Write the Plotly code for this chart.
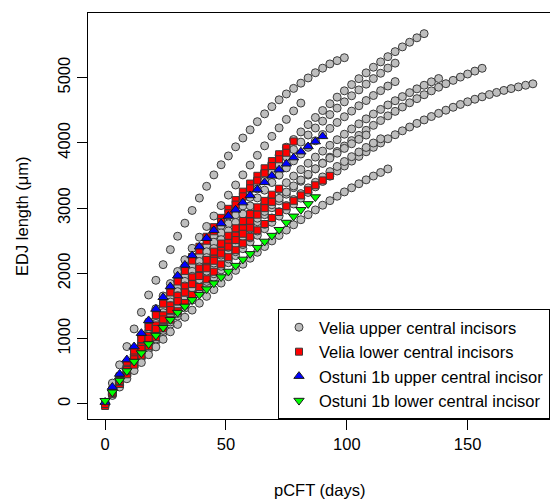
import plotly.graph_objects as go

# pCFT sampling days (every 3 days)
days = [0, 3, 6, 9, 12, 15, 18, 21, 24, 27, 30, 33, 36, 39, 42, 45, 48, 51, 54, 57,
        60, 63, 66, 69, 72, 75, 78, 81, 84, 87, 90, 93, 96, 99, 102, 105, 108, 111, 114, 117,
        120, 123, 126, 129, 132, 135, 138, 141, 144, 147, 150, 153, 156, 159, 162, 165, 168, 171, 174, 177]

# Velia upper central incisors (one list per tooth)
velia_upper = [
    [0, 320, 600, 880, 1150, 1405, 1670, 1895, 2135, 2365, 2570, 2770, 2965, 3155, 3335, 3510, 3665,
     3800, 3940, 4075, 4200, 4325, 4445, 4555, 4660, 4750, 4835, 4915, 4995, 5075, 5145, 5210, 5260, 5305],
    [0, 215, 430, 640, 850, 1055, 1260, 1460, 1655, 1845, 2030, 2210, 2385, 2555, 2720, 2880, 3040,
     3200, 3355, 3510, 3660, 3810, 3955, 4100, 4230, 4360, 4490, 4610],
    [0, 193, 383, 571, 755, 936, 1114, 1290, 1462, 1631, 1798, 1961, 2121, 2279, 2433, 2584, 2733,
     2878, 3021, 3160, 3296, 3430, 3560, 3688, 3812, 3934, 4052, 4168, 4280, 4390, 4496, 4600, 4701,
     4798, 4893, 4984, 5073, 5159, 5241, 5321, 5398, 5471, 5542, 5610, 5674],
    [0, 185, 366, 546, 722, 895, 1066, 1234, 1399, 1562, 1721, 1878, 2032, 2184, 2332, 2478, 2621,
     2761, 2899, 3034, 3166, 3295, 3421, 3545, 3666, 3784, 3899, 4012, 4121, 4228, 4333, 4434, 4533,
     4629, 4722, 4812, 4900, 4985, 5067, 5146, 5222],
    [0, 179, 354, 527, 697, 865, 1029, 1191, 1350, 1506, 1659, 1809, 1957, 2101, 2243, 2382, 2518,
     2652, 2782, 2910, 3035, 3157, 3276, 3393, 3506, 3617, 3725, 3830, 3932, 4032, 4128, 4222, 4313,
     4401, 4487, 4569, 4649, 4726, 4800, 4871, 4939],
    [0, 167, 331, 492, 651, 808, 961, 1113, 1261, 1407, 1550, 1691, 1829, 1965, 2098, 2228, 2356,
     2481, 2604, 2724, 2842, 2956, 3069, 3178, 3285, 3390, 3492, 3591, 3688, 3782, 3874, 3963, 4049,
     4133, 4214, 4292, 4368, 4442, 4513, 4581, 4646, 4709, 4770, 4828, 4883, 4936, 4986],
    [0, 155, 308, 458, 606, 753, 896, 1038, 1178, 1315, 1450, 1583, 1714, 1842, 1969, 2093, 2215,
     2335, 2452, 2568, 2681, 2792, 2901, 3007, 3112, 3214, 3314, 3412, 3507, 3601, 3692, 3781, 3868,
     3952, 4035, 4115, 4193, 4269, 4342, 4414, 4483, 4550, 4615, 4678, 4738, 4797, 4853, 4907, 4958,
     5008, 5055, 5100, 5143],
    [0, 144, 286, 426, 564, 700, 833, 965, 1094, 1222, 1347, 1470, 1591, 1710, 1827, 1941, 2054,
     2164, 2273, 2379, 2483, 2585, 2685, 2783, 2879, 2973, 3064, 3154, 3241, 3326, 3409, 3490, 3569,
     3646, 3721, 3793, 3864, 3932, 3999, 4063, 4125, 4185, 4243, 4299, 4352, 4404, 4453, 4501, 4546,
     4589, 4630, 4669, 4706, 4741, 4773, 4804, 4832, 4858, 4883, 4905],
    [0, 149, 295, 440, 582, 722, 859, 994, 1127, 1258, 1387, 1513, 1637, 1758, 1878, 1995, 2110,
     2222, 2333, 2441, 2546, 2650, 2751, 2850, 2947, 3041, 3133, 3223, 3311, 3396, 3479, 3560, 3639,
     3715, 3789, 3861, 3930, 3998, 4063],
    [0, 131, 260, 387, 512, 635, 755, 874, 991, 1106, 1218, 1329, 1438, 1544, 1649, 1751, 1852,
     1950, 2047, 2141, 2233, 2324, 2412, 2498, 2582, 2664, 2745, 2823, 2899, 2973, 3045, 3115, 3183,
     3249, 3312, 3374, 3434, 3492, 3547, 3601],
    [0, 164, 324, 482, 638, 790, 939, 1086, 1230, 1371, 1510, 1645, 1778, 1908, 2035, 2159, 2281,
     2399, 2515, 2628, 2738, 2846, 2950, 3052, 3151, 3247, 3341, 3431, 3519, 3604, 3686, 3766, 3842,
     3916, 3987, 4055, 4120],
]

# Velia lower central incisors
velia_lower = [
    [0, 214, 423, 627, 826, 1021, 1211, 1396, 1577, 1753, 1924, 2091, 2252, 2409, 2562, 2709, 2852,
     2990, 3124, 3253, 3377, 3496, 3611, 3721, 3826, 3926, 4022],
    [0, 208, 411, 610, 804, 994, 1179, 1360, 1537, 1709, 1876, 2039, 2197, 2351, 2501, 2646, 2786,
     2922, 3054, 3181, 3304, 3422, 3535, 3645, 3749, 3849],
    [-30, 155, 306, 455, 602, 745, 886, 1024, 1159, 1291, 1421, 1547, 1671, 1792, 1911, 2026, 2139,
     2249, 2356, 2460, 2562, 2661, 2757, 2850, 2941, 3028, 3113, 3195, 3274, 3351, 3425, 3495],
    [0, 184, 364, 540, 712, 879, 1043, 1203, 1358, 1510, 1658, 1801, 1940, 2076, 2207, 2334, 2458,
     2577, 2692, 2803, 2910, 3013, 3112, 3207, 3298],
    [0, 172, 341, 507, 669, 827, 982, 1134, 1283, 1428, 1569, 1707, 1842, 1973, 2101, 2225, 2346,
     2464, 2578, 2689, 2796, 2900, 3000, 3097],
    [0, 178, 351, 520, 684, 844, 999, 1150, 1296, 1438, 1575, 1708, 1836, 1960, 2079, 2194, 2304,
     2410, 2511, 2608, 2700],
]

# Ostuni 1b
ostuni_upper = [30, 260, 460, 680, 880, 1085, 1280, 1455, 1635, 1800, 1965, 2130, 2275, 2410, 2540,
                2660, 2765, 2880, 2975, 3085, 3195, 3285, 3395, 3495, 3590, 3680, 3775, 3865, 3945,
                4020, 4100]
ostuni_lower = [50, 180, 360, 505, 650, 780, 920, 1050, 1170, 1290, 1400, 1495, 1595, 1675, 1760,
                1850, 1945, 2030, 2120, 2215, 2300, 2395, 2490, 2580, 2670, 2780, 2875, 2975, 3065,
                3170]


def stack(curves):
    xs, ys = [], []
    for c in curves:
        xs += days[:len(c)]
        ys += c
    return xs, ys


fig = go.Figure()

gx, gy = stack(velia_upper)
fig.add_trace(go.Scatter(x=gx, y=gy, mode='markers', name='Velia upper central incisors',
                         marker=dict(symbol='circle', size=8, color='#BEBEBE',
                                     line=dict(color='#3a3a3a', width=1))))
rx, ry = stack(velia_lower)
fig.add_trace(go.Scatter(x=rx, y=ry, mode='markers', name='Velia lower central incisors',
                         marker=dict(symbol='square', size=7, color='#FF0000',
                                     line=dict(color='#3a3a3a', width=1))))
fig.add_trace(go.Scatter(x=days[:len(ostuni_upper)], y=ostuni_upper, mode='markers',
                         name='Ostuni 1b upper central incisor',
                         marker=dict(symbol='triangle-up', size=9, color='#0000FF',
                                     line=dict(color='#1a1a1a', width=1))))
fig.add_trace(go.Scatter(x=days[:len(ostuni_lower)], y=ostuni_lower, mode='markers',
                         name='Ostuni 1b lower central incisor',
                         marker=dict(symbol='triangle-down', size=9, color='#00FF00',
                                     line=dict(color='#1a1a1a', width=1))))

font = dict(family='Liberation Sans, Arial, sans-serif', size=16.5, color='black')

fig.update_layout(
    width=550, height=500,
    margin=dict(l=88, r=0, t=13, b=81),
    paper_bgcolor='white', plot_bgcolor='white',
    font=font,
    xaxis=dict(range=[-7.08, 184.08], tickvals=[0, 50, 100, 150], ticks='outside', ticklen=10,
               tickcolor='black', showline=True, mirror=True, linecolor='black', linewidth=1,
               showgrid=False, zeroline=False, tickfont=font),
    yaxis=dict(range=[-230, 5990], tickvals=[0, 1000, 2000, 3000, 4000, 5000], ticks='outside',
               ticklen=10, tickangle=-90, tickcolor='black', showline=True, mirror=True,
               linecolor='black', linewidth=1, showgrid=False, zeroline=False, tickfont=font),
    legend=dict(x=1, xanchor='right', y=0, yanchor='bottom', bgcolor='white',
                bordercolor='black', borderwidth=1, font=font, itemsizing='trace',
                itemwidth=30, tracegroupgap=0),
    annotations=[
        dict(text='pCFT (days)', x=0.5, y=-0.174, xref='paper', yref='paper',
             xanchor='center', yanchor='middle', showarrow=False, font=font),
        dict(text='EDJ length (\u03bcm)', x=-0.143, y=0.5, xref='paper', yref='paper',
             xanchor='center', yanchor='middle', textangle=-90, showarrow=False, font=font),
    ],
)

# drop the browser's default page margin so the 550x500 figure fills the window
fig.write_html("out.html", config={'displayModeBar': False},
               post_script="document.body.style.margin='0';document.body.style.overflow='hidden';")
